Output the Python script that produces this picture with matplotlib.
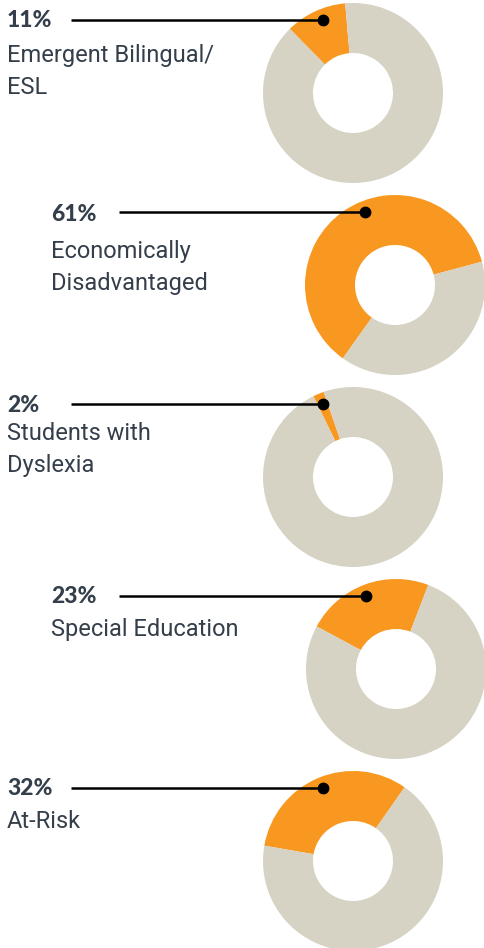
import matplotlib.pyplot as plt
import numpy as np

# data
labels = ["Emergent Bilingual/\nESL", "Economically\nDisadvantaged", "Students with\nDyslexia",
          "Special Education", "At-Risk"]
pct_labels = ["11%", "61%", "2%", "23%", "32%"]
pcts = [11, 61, 2, 23, 32]
start_angles = [95, 15, 109, 69, 55]

# layout, in pixels (y measured from the top of the picture)
centers_x = [353, 395, 353, 396, 353]
centers_y = [93, 285, 477, 669, 861]
text_x = [7, 51, 7, 51, 7]
pct_base_y = [27, 221, 412, 603, 795]
label_base_y = [62, 258, 440, 636, 828]
line_x0 = [71, 119, 71, 119, 71]

ORANGE = "#f89820"
GREY = "#d6d2c4"
TEXT = "#343f4b"
W, H = 484, 948
R_OUT, R_IN = 90, 40

fig = plt.figure(figsize=(W / 100, H / 100), dpi=100)
ax = fig.add_axes([0, 0, 1, 1])

for i in range(len(pcts)):
    cx, cy = centers_x[i], H - centers_y[i]
    ax.pie([pcts[i], 100 - pcts[i]], colors=[ORANGE, GREY], startangle=start_angles[i],
           counterclock=True, radius=R_OUT, center=(cx, cy),
           wedgeprops=dict(width=R_OUT - R_IN, linewidth=0), frame=True)
    # leader line with dot on the orange wedge
    a = np.deg2rad(112)
    dx, dy = cx + 79 * np.cos(a), cy + 79 * np.sin(a)
    ax.plot([line_x0[i], dx], [dy, dy], color="black", lw=1.8, solid_capstyle="butt")
    ax.plot(dx, dy, "o", color="black", ms=7.5)
    ax.text(text_x[i], H - pct_base_y[i], pct_labels[i], fontsize=16.5, fontweight="black",
            family="Lato", color=TEXT, va="baseline", ha="left")
    lines = labels[i].split("\n")
    for j, ln in enumerate(lines):
        ax.text(text_x[i], H - label_base_y[i] - 32 * j, ln, fontsize=17, fontweight="normal",
                family="Roboto", color=TEXT, va="baseline", ha="left")

ax.set_xlim(0, W)
ax.set_ylim(0, H)
ax.set_aspect("equal")
ax.axis("off")
fig.savefig("out.png", dpi=100, facecolor="white")
